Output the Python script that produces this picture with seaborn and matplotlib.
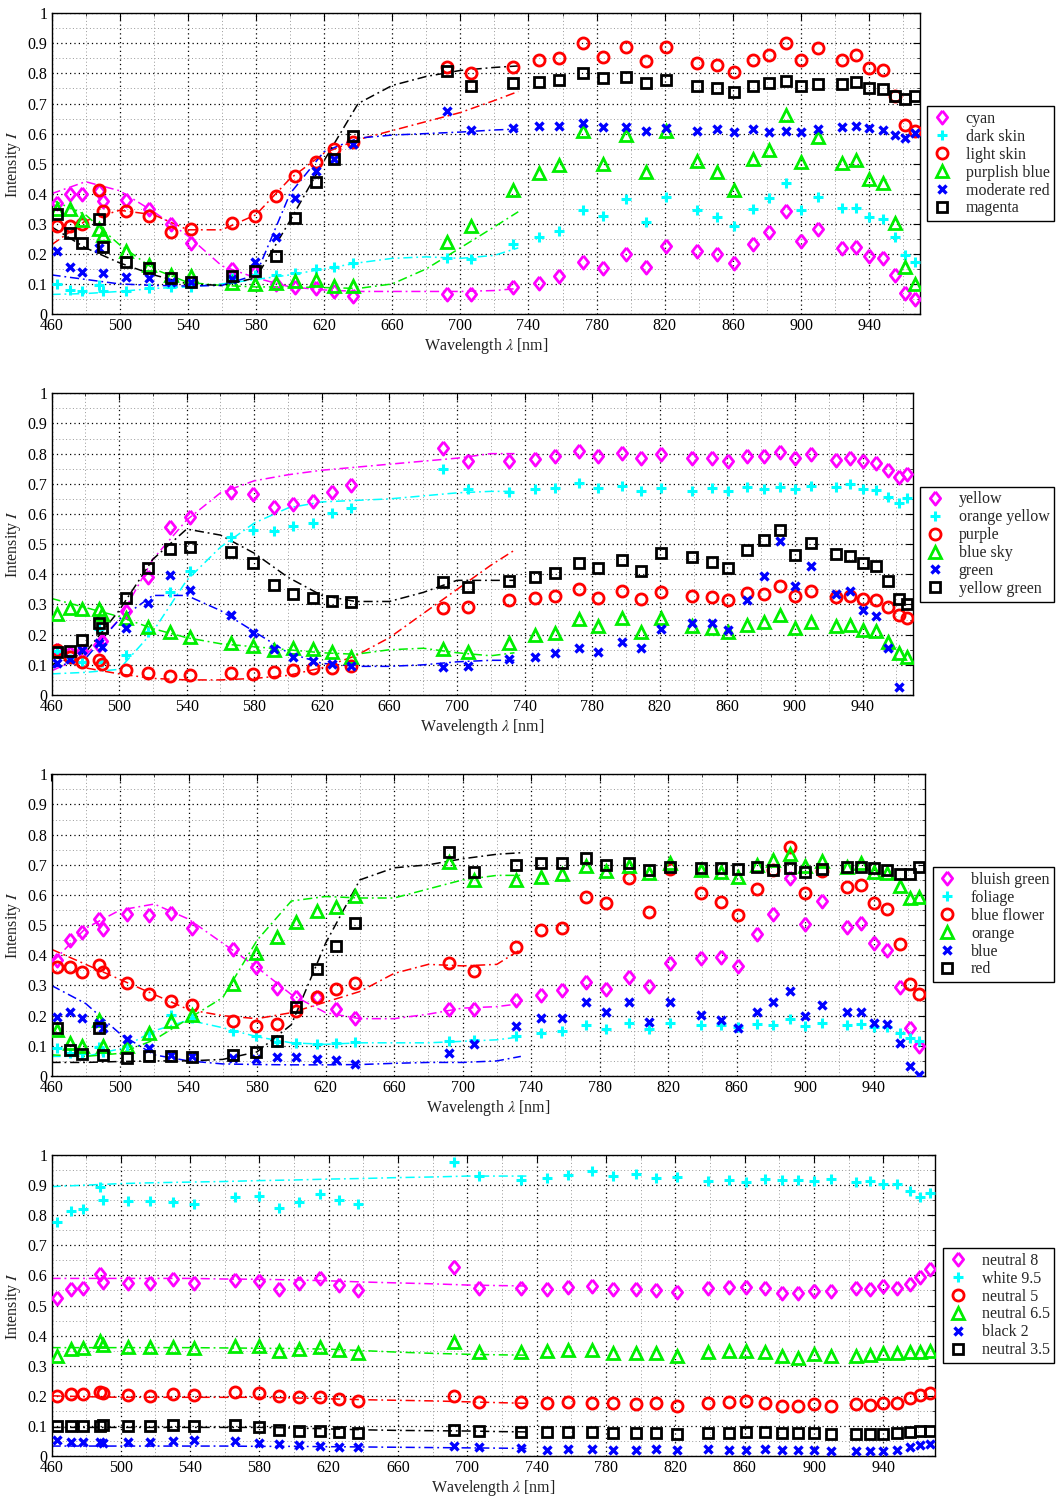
import numpy as np
import pandas as pd
import matplotlib
matplotlib.use("Agg")
import matplotlib.pyplot as plt
from matplotlib.lines import Line2D
from matplotlib.ticker import FixedLocator
import seaborn as sns

# Sample wavelengths (nm) of the measured points
WAVELENGTHS = [463, 471, 478, 488, 490, 504, 517, 530, 542, 566, 579.5, 591.5, 603,
               615, 626, 637, 692, 706.5, 731, 746, 758, 772, 783.7, 797.4, 809,
               821, 839, 850.8, 860.6, 871.7, 881.4, 891, 900, 909.8, 924.3, 932.3, 940,
               948, 955.3, 961.3, 966.6]

# Wavelengths at which the fitted reference spectra are tabulated
FIT_WL = [460, 480, 500, 520, 540, 560, 580, 600, 620, 640, 660, 680, 700, 720, 734]

# ---- Panel 1 ----
P1_LABELS = ["cyan", "dark skin", "light skin", "purplish blue", "moderate red", "magenta"]
P1_CYAN = [0.37, 0.40, 0.40, 0.41, 0.375, 0.38, 0.35, 0.30, 0.235, 0.15, 0.14, 0.10, 0.09, 0.085, 0.076, 0.06, 0.067, 0.065, 0.09,
           0.102, 0.126, 0.174, 0.154, 0.20, 0.157, 0.227, 0.21, 0.198, 0.168, 0.232, 0.272, 0.344, 0.244, 0.282, 0.218, 0.224, 0.194, 0.185, 0.131, 0.069, 0.049]
P1_DARK_SKIN = [0.10, 0.08, 0.076, 0.096, 0.076, 0.076, 0.085, 0.09, 0.09, 0.12, 0.13, 0.13, 0.137, 0.149, 0.157, 0.171, 0.185, 0.182, 0.232,
                0.257, 0.277, 0.346, 0.327, 0.381, 0.305, 0.39, 0.346, 0.322, 0.293, 0.349, 0.387, 0.435, 0.346, 0.388, 0.351, 0.351, 0.324, 0.316, 0.257, 0.196, 0.172]
P1_LIGHT_SKIN = [0.293, 0.293, 0.30, 0.412, 0.343, 0.343, 0.326, 0.274, 0.282, 0.304, 0.326, 0.394, 0.46, 0.507, 0.549, 0.571, 0.823, 0.803, 0.823,
                 0.845, 0.853, 0.90, 0.856, 0.889, 0.841, 0.889, 0.836, 0.828, 0.806, 0.845, 0.861, 0.90, 0.845, 0.884, 0.845, 0.861, 0.817, 0.812, 0.725, 0.629, 0.609]
P1_PURPLISH_BLUE = [0.348, 0.348, 0.313, 0.282, 0.263, 0.211, 0.163, 0.13, 0.126, 0.102, 0.10, 0.104, 0.111, 0.113, 0.093, 0.093, 0.241, 0.293, 0.412,
                    0.47, 0.494, 0.609, 0.498, 0.595, 0.473, 0.609, 0.509, 0.473, 0.412, 0.514, 0.545, 0.662, 0.507, 0.588, 0.501, 0.512, 0.448, 0.435, 0.304, 0.157, 0.099]
P1_MODERATE_RED = [0.21, 0.155, 0.141, 0.218, 0.137, 0.122, 0.119, 0.108, 0.105, 0.115, 0.172, 0.255, 0.385, 0.476, 0.514, 0.564, 0.676, 0.612, 0.618,
                   0.625, 0.625, 0.636, 0.621, 0.623, 0.61, 0.618, 0.61, 0.614, 0.604, 0.614, 0.604, 0.609, 0.604, 0.614, 0.621, 0.626, 0.618, 0.612, 0.595, 0.584, 0.603]
P1_MAGENTA = [0.331, 0.268, 0.237, 0.316, 0.222, 0.174, 0.154, 0.119, 0.108, 0.126, 0.144, 0.193, 0.32, 0.44, 0.514, 0.592, 0.809, 0.759, 0.767,
              0.773, 0.778, 0.803, 0.784, 0.789, 0.767, 0.778, 0.758, 0.751, 0.739, 0.758, 0.769, 0.775, 0.758, 0.765, 0.764, 0.771, 0.751, 0.748, 0.726, 0.714, 0.726]
P1_FIT_CYAN = [0.40, 0.44, 0.41, 0.34, 0.26, 0.16, 0.12, 0.09, 0.08, 0.075, 0.075, 0.075, 0.075, 0.078, 0.085]
P1_FIT_DARK_SKIN = [0.065, 0.068, 0.075, 0.085, 0.09, 0.10, 0.115, 0.13, 0.15, 0.17, 0.185, 0.19, 0.185, 0.195, 0.22]
P1_FIT_LIGHT_SKIN = [0.23, 0.31, 0.345, 0.33, 0.28, 0.28, 0.33, 0.45, 0.535, 0.58, 0.61, 0.64, 0.67, 0.71, 0.74]
P1_FIT_PURPLISH_BLUE = [0.38, 0.33, 0.23, 0.15, 0.105, 0.095, 0.09, 0.09, 0.088, 0.085, 0.10, 0.15, 0.22, 0.29, 0.34]
P1_FIT_MODERATE_RED = [0.13, 0.115, 0.10, 0.095, 0.093, 0.095, 0.13, 0.40, 0.54, 0.585, 0.595, 0.60, 0.605, 0.612, 0.615]
P1_FIT_MAGENTA = [0.29, 0.22, 0.17, 0.13, 0.10, 0.095, 0.12, 0.31, 0.51, 0.70, 0.76, 0.79, 0.81, 0.82, 0.825]

# ---- Panel 2 ----
P2_LABELS = ["yellow", "orange yellow", "purple", "blue sky", "green", "yellow green"]
P2_YELLOW = [0.15, 0.14, 0.145, 0.165, 0.18, 0.28, 0.39, 0.558, 0.589, 0.672, 0.665, 0.624, 0.633, 0.644, 0.672, 0.696, 0.82, 0.776, 0.776,
             0.781, 0.792, 0.81, 0.792, 0.803, 0.785, 0.799, 0.787, 0.785, 0.776, 0.792, 0.792, 0.804, 0.787, 0.799, 0.779, 0.785, 0.776, 0.768, 0.746, 0.724, 0.731]
P2_ORANGE_YELLOW = [0.145, 0.12, 0.11, 0.22, 0.11, 0.133, 0.208, 0.343, 0.411, 0.525, 0.547, 0.544, 0.561, 0.569, 0.602, 0.621, 0.748, 0.682, 0.674,
                    0.682, 0.687, 0.702, 0.685, 0.693, 0.676, 0.687, 0.677, 0.687, 0.676, 0.688, 0.682, 0.688, 0.682, 0.693, 0.691, 0.698, 0.682, 0.68, 0.655, 0.638, 0.652]
P2_PURPLE = [0.149, 0.127, 0.11, 0.116, 0.103, 0.083, 0.072, 0.064, 0.066, 0.072, 0.069, 0.075, 0.083, 0.088, 0.088, 0.097, 0.29, 0.293, 0.315,
             0.323, 0.328, 0.35, 0.323, 0.345, 0.318, 0.343, 0.329, 0.326, 0.315, 0.337, 0.335, 0.361, 0.328, 0.346, 0.326, 0.328, 0.317, 0.315, 0.293, 0.265, 0.254]
P2_BLUE_SKY = [0.27, 0.29, 0.285, 0.285, 0.27, 0.254, 0.226, 0.208, 0.193, 0.171, 0.164, 0.149, 0.155, 0.151, 0.144, 0.127, 0.151, 0.144, 0.171,
               0.199, 0.204, 0.251, 0.229, 0.254, 0.21, 0.254, 0.229, 0.221, 0.208, 0.232, 0.243, 0.265, 0.221, 0.243, 0.229, 0.232, 0.215, 0.213, 0.177, 0.14, 0.127]
P2_GREEN = [0.105, 0.12, 0.149, 0.171, 0.16, 0.221, 0.304, 0.398, 0.348, 0.265, 0.207, 0.151, 0.125, 0.113, 0.102, 0.096, 0.094, 0.097, 0.118,
            0.127, 0.138, 0.157, 0.144, 0.177, 0.157, 0.218, 0.24, 0.24, 0.215, 0.315, 0.394, 0.511, 0.361, 0.428, 0.334, 0.346, 0.282, 0.263, 0.155, 0.028, np.nan]
P2_YELLOW_GREEN = [0.144, 0.147, 0.182, 0.24, 0.221, 0.32, 0.42, 0.483, 0.49, 0.475, 0.439, 0.365, 0.334, 0.323, 0.313, 0.309, 0.376, 0.359, 0.378,
                   0.39, 0.403, 0.436, 0.42, 0.448, 0.411, 0.472, 0.459, 0.442, 0.42, 0.481, 0.514, 0.547, 0.464, 0.503, 0.466, 0.462, 0.436, 0.428, 0.378, 0.318, 0.30]
P2_FIT_YELLOW = [0.08, 0.13, 0.25, 0.45, 0.58, 0.67, 0.71, 0.73, 0.745, 0.755, 0.765, 0.775, 0.785, 0.80, 0.80]
P2_FIT_ORANGE_YELLOW = [0.07, 0.075, 0.085, 0.21, 0.38, 0.49, 0.57, 0.62, 0.64, 0.645, 0.65, 0.66, 0.67, 0.675, 0.675]
P2_FIT_PURPLE = [0.13, 0.09, 0.07, 0.055, 0.05, 0.05, 0.055, 0.065, 0.09, 0.13, 0.19, 0.27, 0.35, 0.43, 0.48]
P2_FIT_BLUE_SKY = [0.32, 0.29, 0.26, 0.22, 0.19, 0.17, 0.16, 0.15, 0.14, 0.135, 0.15, 0.155, 0.14, 0.13, 0.14]
P2_FIT_GREEN = [0.09, 0.12, 0.25, 0.33, 0.33, 0.28, 0.21, 0.14, 0.105, 0.095, 0.095, 0.10, 0.11, 0.115, 0.115]
P2_FIT_YELLOW_GREEN = [0.10, 0.14, 0.28, 0.45, 0.55, 0.53, 0.47, 0.39, 0.33, 0.31, 0.31, 0.34, 0.38, 0.38, 0.38]

# ---- Panel 3 ----
P3_LABELS = ["bluish green", "foliage", "blue flower", "orange", "blue", "red"]
P3_BLUISH_GREEN = [0.385, 0.451, 0.478, 0.519, 0.486, 0.537, 0.534, 0.539, 0.492, 0.42, 0.362, 0.293, 0.261, 0.261, 0.221, 0.191, 0.221, 0.221, 0.252,
                   0.269, 0.285, 0.311, 0.287, 0.329, 0.299, 0.373, 0.39, 0.393, 0.365, 0.47, 0.536, 0.655, 0.503, 0.58, 0.495, 0.506, 0.442, 0.418, 0.296, 0.158, 0.099]
P3_FOLIAGE = [0.092, 0.075, 0.075, 0.097, 0.08, 0.099, 0.141, 0.202, 0.191, 0.15, 0.133, 0.114, 0.108, 0.106, 0.108, 0.114, 0.116, 0.119, 0.133,
              0.141, 0.15, 0.169, 0.155, 0.175, 0.155, 0.177, 0.169, 0.169, 0.164, 0.171, 0.169, 0.189, 0.167, 0.177, 0.169, 0.171, 0.164, 0.164, 0.144, 0.125, 0.116]
P3_BLUE_FLOWER = [0.362, 0.36, 0.346, 0.368, 0.346, 0.309, 0.272, 0.25, 0.235, 0.182, 0.167, 0.171, 0.215, 0.263, 0.288, 0.307, 0.373, 0.348, 0.429,
                  0.484, 0.492, 0.592, 0.572, 0.655, 0.543, 0.685, 0.606, 0.578, 0.532, 0.619, 0.683, 0.758, 0.606, 0.68, 0.628, 0.633, 0.572, 0.554, 0.436, 0.305, 0.272]
P3_ORANGE = [0.152, 0.108, 0.099, 0.186, 0.099, 0.099, 0.144, 0.183, 0.202, 0.304, 0.409, 0.46, 0.509, 0.548, 0.559, 0.597, 0.71, 0.648, 0.65,
             0.661, 0.669, 0.696, 0.68, 0.696, 0.672, 0.705, 0.683, 0.677, 0.661, 0.699, 0.716, 0.736, 0.696, 0.713, 0.694, 0.707, 0.677, 0.672, 0.63, 0.591, 0.594]
P3_BLUE = [0.197, 0.213, 0.193, 0.175, 0.16, 0.122, 0.094, 0.07, 0.066, 0.06, 0.055, 0.064, 0.064, 0.055, 0.053, 0.04, 0.077, 0.105, 0.167,
           0.191, 0.191, 0.246, 0.211, 0.244, 0.178, 0.246, 0.202, 0.186, 0.16, 0.211, 0.244, 0.283, 0.2, 0.235, 0.211, 0.213, 0.177, 0.172, 0.108, 0.033, 0.003]
P3_RED = [0.16, 0.086, 0.072, 0.158, 0.07, 0.059, 0.067, 0.066, 0.064, 0.07, 0.081, 0.116, 0.23, 0.354, 0.432, 0.508, 0.741, 0.675, 0.699,
          0.707, 0.707, 0.722, 0.698, 0.705, 0.683, 0.694, 0.691, 0.691, 0.685, 0.694, 0.683, 0.691, 0.677, 0.685, 0.692, 0.692, 0.688, 0.683, 0.67, 0.67, 0.692]
P3_FIT_BLUISH_GREEN = [0.375, 0.49, 0.55, 0.57, 0.52, 0.44, 0.36, 0.27, 0.21, 0.19, 0.19, 0.205, 0.225, 0.23, 0.24]
P3_FIT_FOLIAGE = [0.065, 0.065, 0.09, 0.15, 0.185, 0.16, 0.13, 0.11, 0.105, 0.11, 0.11, 0.11, 0.115, 0.12, 0.13]
P3_FIT_BLUE_FLOWER = [0.42, 0.37, 0.32, 0.27, 0.22, 0.20, 0.19, 0.21, 0.245, 0.28, 0.34, 0.37, 0.365, 0.37, 0.42]
P3_FIT_ORANGE = [0.07, 0.065, 0.075, 0.12, 0.19, 0.26, 0.45, 0.58, 0.595, 0.59, 0.59, 0.62, 0.65, 0.665, 0.665]
P3_FIT_BLUE = [0.30, 0.24, 0.14, 0.07, 0.05, 0.04, 0.038, 0.037, 0.037, 0.038, 0.042, 0.045, 0.045, 0.05, 0.065]
P3_FIT_RED = [0.045, 0.045, 0.048, 0.05, 0.05, 0.055, 0.08, 0.17, 0.44, 0.65, 0.69, 0.70, 0.72, 0.735, 0.74]

# ---- Panel 4 ----
P4_LABELS = ["neutral 8", "white 9.5", "neutral 5", "neutral 6.5", "black 2", "neutral 3.5"]
P4_NEUTRAL_8 = [0.524, 0.554, 0.559, 0.604, 0.579, 0.574, 0.574, 0.587, 0.576, 0.585, 0.581, 0.555, 0.574, 0.59, 0.568, 0.551, 0.629, 0.557, 0.557,
                0.554, 0.563, 0.566, 0.554, 0.554, 0.551, 0.546, 0.559, 0.563, 0.563, 0.559, 0.54, 0.54, 0.549, 0.549, 0.557, 0.554, 0.566, 0.557, 0.57, 0.594, 0.62]
P4_WHITE_9_5 = [0.779, 0.814, 0.821, 0.895, 0.85, 0.847, 0.847, 0.843, 0.836, 0.859, 0.864, 0.825, 0.843, 0.869, 0.85, 0.836, 0.976, 0.931, 0.917,
                0.925, 0.934, 0.948, 0.931, 0.937, 0.922, 0.928, 0.914, 0.917, 0.911, 0.919, 0.917, 0.917, 0.915, 0.92, 0.909, 0.915, 0.904, 0.903, 0.88, 0.862, 0.875]
P4_NEUTRAL_5 = [0.199, 0.205, 0.205, 0.214, 0.208, 0.203, 0.2, 0.206, 0.203, 0.212, 0.208, 0.199, 0.197, 0.195, 0.189, 0.183, 0.199, 0.181, 0.178,
                0.175, 0.178, 0.177, 0.175, 0.172, 0.175, 0.167, 0.177, 0.178, 0.183, 0.177, 0.167, 0.166, 0.173, 0.167, 0.173, 0.169, 0.177, 0.177, 0.192, 0.203, 0.208]
P4_NEUTRAL_6_5 = [0.332, 0.354, 0.358, 0.382, 0.369, 0.361, 0.361, 0.363, 0.358, 0.365, 0.367, 0.35, 0.354, 0.361, 0.352, 0.343, 0.38, 0.344, 0.347,
                  0.349, 0.352, 0.352, 0.341, 0.341, 0.341, 0.332, 0.344, 0.349, 0.35, 0.344, 0.333, 0.327, 0.338, 0.332, 0.333, 0.336, 0.341, 0.341, 0.344, 0.347, 0.349]
P4_BLACK_2 = [0.053, 0.048, 0.045, 0.048, 0.044, 0.048, 0.048, 0.051, 0.053, 0.05, 0.042, 0.04, 0.037, 0.034, 0.031, 0.029, 0.034, 0.029, 0.025,
              0.02, 0.022, 0.023, 0.02, 0.02, 0.022, 0.02, 0.022, 0.02, 0.02, 0.022, 0.02, 0.02, 0.02, 0.018, 0.018, 0.017, 0.018, 0.02, 0.029, 0.037, 0.039]
P4_NEUTRAL_3_5 = [0.1, 0.1, 0.1, 0.1, 0.103, 0.1, 0.1, 0.103, 0.1, 0.103, 0.095, 0.086, 0.084, 0.084, 0.081, 0.078, 0.086, 0.083, 0.079,
                  0.079, 0.079, 0.081, 0.078, 0.075, 0.078, 0.073, 0.078, 0.078, 0.079, 0.079, 0.075, 0.075, 0.075, 0.073, 0.072, 0.073, 0.073, 0.075, 0.081, 0.084, 0.084]
P4_FIT_NEUTRAL_8 = [0.59, 0.59, 0.59, 0.59, 0.59, 0.588, 0.587, 0.585, 0.582, 0.578, 0.575, 0.572, 0.568, 0.566, 0.565]
P4_FIT_WHITE_9_5 = [0.895, 0.90, 0.905, 0.908, 0.91, 0.912, 0.915, 0.917, 0.92, 0.922, 0.925, 0.927, 0.93, 0.93, 0.93]
P4_FIT_NEUTRAL_5 = [0.20, 0.197, 0.195, 0.195, 0.195, 0.195, 0.195, 0.193, 0.19, 0.187, 0.185, 0.183, 0.18, 0.177, 0.175]
P4_FIT_NEUTRAL_6_5 = [0.36, 0.36, 0.36, 0.36, 0.36, 0.359, 0.358, 0.357, 0.355, 0.35, 0.345, 0.341, 0.338, 0.336, 0.335]
P4_FIT_BLACK_2 = [0.033, 0.033, 0.033, 0.033, 0.033, 0.033, 0.032, 0.032, 0.031, 0.03, 0.029, 0.028, 0.027, 0.026, 0.025]
P4_FIT_NEUTRAL_3_5 = [0.095, 0.095, 0.095, 0.095, 0.095, 0.095, 0.095, 0.093, 0.09, 0.087, 0.085, 0.084, 0.083, 0.081, 0.08]

PANELS = [
    (P1_LABELS, [P1_CYAN, P1_DARK_SKIN, P1_LIGHT_SKIN, P1_PURPLISH_BLUE, P1_MODERATE_RED, P1_MAGENTA],
     [P1_FIT_CYAN, P1_FIT_DARK_SKIN, P1_FIT_LIGHT_SKIN, P1_FIT_PURPLISH_BLUE, P1_FIT_MODERATE_RED, P1_FIT_MAGENTA]),
    (P2_LABELS, [P2_YELLOW, P2_ORANGE_YELLOW, P2_PURPLE, P2_BLUE_SKY, P2_GREEN, P2_YELLOW_GREEN],
     [P2_FIT_YELLOW, P2_FIT_ORANGE_YELLOW, P2_FIT_PURPLE, P2_FIT_BLUE_SKY, P2_FIT_GREEN, P2_FIT_YELLOW_GREEN]),
    (P3_LABELS, [P3_BLUISH_GREEN, P3_FOLIAGE, P3_BLUE_FLOWER, P3_ORANGE, P3_BLUE, P3_RED],
     [P3_FIT_BLUISH_GREEN, P3_FIT_FOLIAGE, P3_FIT_BLUE_FLOWER, P3_FIT_ORANGE, P3_FIT_BLUE, P3_FIT_RED]),
    (P4_LABELS, [P4_NEUTRAL_8, P4_WHITE_9_5, P4_NEUTRAL_5, P4_NEUTRAL_6_5, P4_BLACK_2, P4_NEUTRAL_3_5],
     [P4_FIT_NEUTRAL_8, P4_FIT_WHITE_9_5, P4_FIT_NEUTRAL_5, P4_FIT_NEUTRAL_6_5, P4_FIT_BLACK_2, P4_FIT_NEUTRAL_3_5]),
]

# Styling shared by all four panels (marker, size, edge width, colour)
DIAMOND = [(0, 1), (0.78, 0), (0, -1), (-0.78, 0), (0, 1)]
STYLES = [
    dict(marker=DIAMOND, ms=9.5, mew=2.0, color="#ff00ff", filled=False),
    dict(marker="+", ms=7.5, mew=2.2, color="#00ffff", filled=None),
    dict(marker="o", ms=8.0, mew=2.0, color="#ff0000", filled=False),
    dict(marker="^", ms=9.0, mew=2.0, color="#00ee00", filled=False),
    dict(marker="x", ms=5.5, mew=2.4, color="#0000ff", filled=None),
    dict(marker="s", ms=6.5, mew=2.0, color="#000000", filled=False),
]

# Axes rectangles (left, bottom, width, height) in pixels from the top-left corner
W, H = 1057, 1496
AX_PX = [
    (51.5, 13.3, 920.3, 314.0),
    (51.5, 393.3, 913.2, 695.0),
    (51.5, 774.3, 925.1, 1076.0),
    (51.5, 1155.0, 935.4, 1456.0),
]
AX_RECTS = [(l / W, 1 - b / H, (r - l) / W, (b - t) / H) for (l, t, r, b) in AX_PX]
LEGEND_Y = [1 - 163.7 / H, 1 - 544.2 / H, 1 - 924.7 / H, 1 - 1305.5 / H]
LEGEND_RIGHT = 1054.3 / W

sns.set_theme(style="white")
plt.rcParams["font.family"] = ["Liberation Serif", "DejaVu Serif"]
plt.rcParams["mathtext.fontset"] = "stix"
plt.rcParams["axes.linewidth"] = 1.0

fig = plt.figure(figsize=(W / 100, H / 100), dpi=100)
fig.patch.set_facecolor("white")

DASHDOT = (0, (6, 2.5, 1.2, 2.5))

for rect, ly, (labels, series, fits) in zip(AX_RECTS, LEGEND_Y, PANELS):
    ax = fig.add_axes(rect)
    ax.set_facecolor("white")
    handles = []
    for name, vals, fit, st in zip(labels, series, fits, STYLES):
        fit_df = pd.DataFrame({"wl": FIT_WL, "I": fit})
        sns.lineplot(data=fit_df, x="wl", y="I", ax=ax, estimator=None, sort=False,
                     color=st["color"], linewidth=1.1, linestyle=DASHDOT, legend=False,
                     zorder=2)
        pts = pd.DataFrame({"wl": WAVELENGTHS, "I": vals}).dropna()
        kws = dict(marker=st["marker"], markersize=st["ms"], markeredgewidth=st["mew"],
                   markeredgecolor=st["color"])
        if st["filled"] is False:
            kws["markerfacecolor"] = "none"
        sns.lineplot(data=pts, x="wl", y="I", ax=ax, estimator=None, sort=False,
                     color=st["color"], linestyle="", legend=False, zorder=3, **kws)
        handles.append(Line2D([], [], linestyle="", color=st["color"], label=name, **kws))

    ax.set_xlim(460, 970)
    ax.set_ylim(0, 1)
    ax.xaxis.set_major_locator(FixedLocator(list(range(460, 941, 40))))
    ax.xaxis.set_minor_locator(FixedLocator(list(range(480, 970, 40))))
    ax.yaxis.set_major_locator(FixedLocator([i / 10 for i in range(11)]))
    ax.yaxis.set_minor_locator(FixedLocator([0.05 + i / 10 for i in range(10)]))
    ax.set_yticklabels(["0"] + [f"{i / 10:g}" for i in range(1, 10)] + ["1"])
    ax.grid(which="major", color="black", linestyle=(0, (1, 2.5)), linewidth=0.9)
    ax.grid(which="minor", color="#999999", linestyle=(0, (1, 2.5)), linewidth=0.7)
    ax.set_axisbelow(True)
    ax.tick_params(which="major", direction="in", length=5, width=0.8, top=True,
                   right=True, labelsize=11.5, pad=3, colors="black")
    ax.tick_params(which="minor", direction="in", length=2.5, width=0.6, top=True,
                   right=True)
    for sp in ax.spines.values():
        sp.set_visible(True)
        sp.set_color("black")
        sp.set_linewidth(1.0)
    ax.set_xlabel(r"Wavelength $\lambda$ [nm]", fontsize=11.5, labelpad=1, color="#222222")
    ax.set_ylabel(r"Intensity $I$", fontsize=11.5, labelpad=3, color="#222222")

    leg = ax.legend(handles=handles, loc="center right", bbox_to_anchor=(LEGEND_RIGHT, ly),
                    bbox_transform=fig.transFigure, frameon=True, fancybox=False,
                    edgecolor="black", fontsize=11.5, numpoints=1, handlelength=1.2,
                    handletextpad=0.9, labelspacing=0.12, borderpad=0.3,
                    borderaxespad=0)
    leg.get_frame().set_linewidth(1.0)
    leg.get_frame().set_alpha(1)

fig.savefig("out.png", dpi=100, facecolor="white")
